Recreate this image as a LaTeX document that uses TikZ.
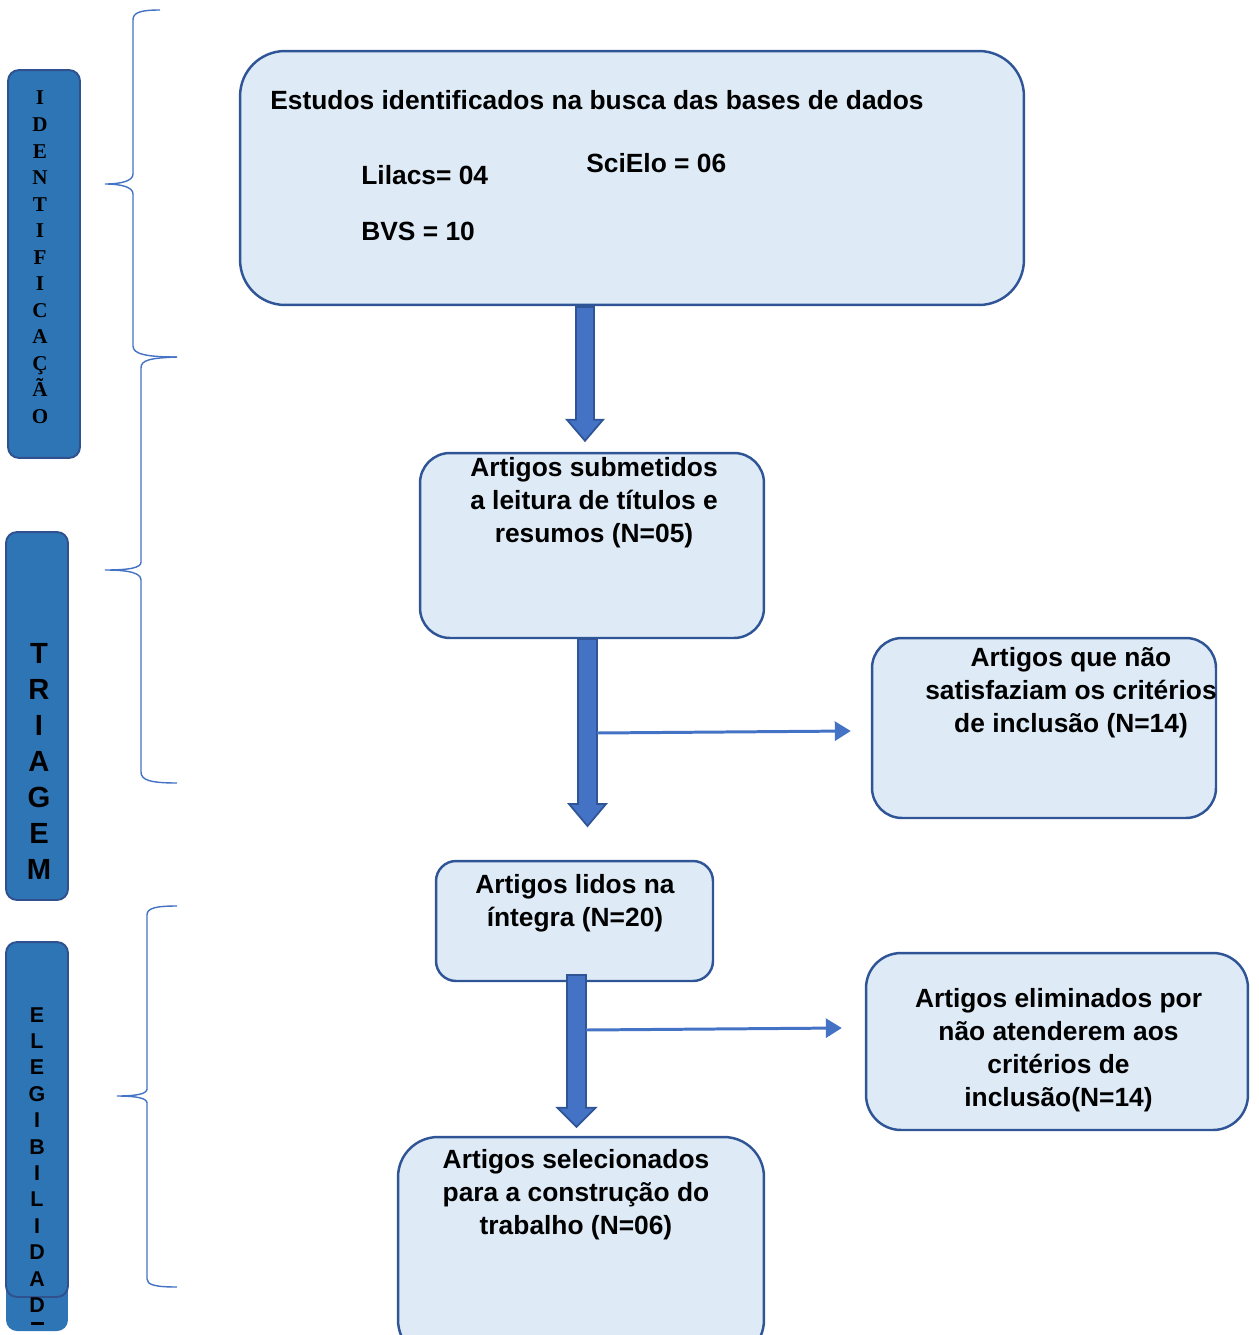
\documentclass[tikz,border=0pt]{standalone}
\usepackage{fontspec}
\setmainfont{Liberation Sans}
\newfontfamily\serifb{Liberation Serif}
\usetikzlibrary{arrows.meta,calc}
\definecolor{boxfill}{HTML}{DEEBF7}
\definecolor{boxline}{HTML}{2F5597}
\definecolor{barfill}{HTML}{2E75B6}
\definecolor{barline}{HTML}{2F528F}
\definecolor{arrfill}{HTML}{4472C4}
\definecolor{braceline}{HTML}{4472C4}
\newcommand\fatarr[5]{%
  \draw[fatarrow] ($(#1)+(-#3,0)$) -- ($(#2)+(-#3,-#5)$) -- ($(#2)+(-#4,-#5)$) -- (#2)
    -- ($(#2)+(#4,-#5)$) -- ($(#2)+(#3,-#5)$) -- ($(#1)+(#3,0)$) -- cycle;}
\begin{document}
\begin{tikzpicture}[x=0.02cm,y=-0.02cm,
  box/.style={draw=boxline,fill=boxfill,line width=1.4pt,inner sep=0pt},
  bar/.style={draw=barline,fill=barfill,line width=1.1pt,rounded corners=0.22cm,inner sep=0pt},
  txt/.style={font=\fontsize{15}{18.7}\selectfont\bfseries,inner sep=0pt,align=center,anchor=north},
  ltxt/.style={font=\fontsize{15}{18}\selectfont\bfseries,inner sep=0pt,anchor=base west},
  idletter/.style={font=\serifb\bfseries\fontsize{12}{14}\selectfont,inner sep=0pt,anchor=base},
  trletter/.style={font=\bfseries\fontsize{16.6}{20}\selectfont,inner sep=0pt,anchor=base},
  elletter/.style={font=\bfseries\fontsize{12.2}{14}\selectfont,inner sep=0pt,anchor=base},
  fatarrow/.style={fill=arrfill,draw=boxline,line width=1pt,line join=miter},
  thinarrow/.style={draw=arrfill,line width=1.7pt,-{Triangle[length=0.32cm,width=0.38cm]}},
  bracestyle/.style={draw=braceline,line width=0.8pt}]
\useasboundingbox (0,0) rectangle (1258,1335);

% left phase bars
\node[bar] (bar1) at (44,264) [minimum width=1.44cm,minimum height=7.76cm] {};
\node[bar] (bar2) at (37,716) [minimum width=1.24cm,minimum height=7.36cm] {};
\node[fill=barfill,rounded corners=0.22cm,inner sep=0pt,minimum width=1.24cm,minimum height=1.62cm] (bar3x) at (37,1290.5) {};
\node[bar] (bar3) at (37,1119.5) [minimum width=1.24cm,minimum height=7.1cm] {};
\foreach \L [count=\i from 0] in {I,D,E,N,T,I,F,I,C,A,Ç,Ã,O}
  \node[idletter] (id\i) at (40,{105+26.5*\i}) {\L};
\foreach \L [count=\i from 0] in {T,R,I,A,G,E,M}
  \node[trletter] (tr\i) at (39,{663+36*\i}) {\L};
\foreach \L [count=\i from 0] in {E,L,E,G,I,B,I,L,I,D,A,D}
  \node[elletter] (el\i) at (37,{1022+26.4*\i}) {\L};
\fill[black] (31,1322) rectangle (44,1324.5);

% braces
\draw[bracestyle] (160,10) .. controls (139,10) and (133,13) .. (133,20) -- (133,174)
  .. controls (133,181) and (121,184) .. (105,184) .. controls (121,184) and (133,187) .. (133,194)
  -- (133,346) .. controls (133,354) and (146,357) .. (177,357);
\draw[bracestyle] (177,357) .. controls (150,358) and (141,360) .. (141,368) -- (141,562)
  .. controls (141,568) and (129,570) .. (105,570) .. controls (129,570) and (141,573) .. (141,580)
  -- (141,772) .. controls (141,780) and (150,783) .. (177,783);
\draw[bracestyle] (177,906) .. controls (156,906) and (147,908) .. (147,915) -- (147,1089)
  .. controls (147,1094) and (136,1096) .. (117,1096) .. controls (136,1096) and (147,1098) .. (147,1103)
  -- (147,1279) .. controls (147,1285) and (156,1287) .. (177,1287);

% boxes
\node[box,rounded corners=0.9cm,minimum width=15.68cm,minimum height=5.08cm] (box1) at (632,178) {};
\node[box,rounded corners=0.6cm,minimum width=6.88cm,minimum height=3.7cm] (box2) at (592,545.5) {};
\node[box,rounded corners=0.6cm,minimum width=6.88cm,minimum height=3.6cm] (box3) at (1044,728) {};
\node[box,rounded corners=0.4cm,minimum width=5.54cm,minimum height=2.4cm] (box4) at (574.5,921) {};
\node[box,rounded corners=0.7cm,minimum width=7.64cm,minimum height=3.54cm] (box5) at (1057,1041.5) {};
\node[box,rounded corners=0.8cm,minimum width=7.32cm,minimum height=4.46cm] (box6) at (581,1248.5) {};

% texts
\node[ltxt] (t1a) at (270,110) {Estudos identificados na busca das bases de dados};
\node[ltxt] (t1b) at (361,184) {Lilacs= 04};
\node[ltxt] (t1c) at (586,173) {SciElo = 06};
\node[ltxt] (t1d) at (361,240) {BVS = 10};
\node[txt] (t2) at (594,457) {Artigos submetidos\\a leitura de títulos e\\resumos (N=05)};
\node[txt] (t3) at (1071,647) {Artigos que não\\satisfaziam os critérios\\de inclusão (N=14)};
\node[txt] (t4) at (575,874) {Artigos lidos na\\íntegra (N=20)};
\node[txt] (t5) at (1058.5,988) {Artigos eliminados por\\não atenderem aos\\critérios de\\inclusão(N=14)};
\node[txt] (t6) at (576,1149) {Artigos selecionados\\para a construção do\\trabalho (N=06)};

% fat arrows
\coordinate (a1s) at (585,307);
\coordinate (a1e) at ($(box2.north -| a1s)+(0,-11)$);
\fatarr{a1s}{a1e}{9}{18}{21}
\coordinate (a2s) at (587.5,639);
\coordinate (a2e) at (587.5,826);
\fatarr{a2s}{a2e}{9.5}{18.5}{22}
\coordinate (a3s) at (576.5,975);
\coordinate (a3e) at ($(box6.north -| a3s)+(0,-9)$);
\fatarr{a3s}{a3e}{9.5}{19}{19}

% thin arrows
\coordinate (t1s) at (597,733);
\coordinate (t1e) at ($(box3.west)+(-20,3)$);
\draw[thinarrow] (t1s) -- (t1e);
\coordinate (t2s) at (586,1030);
\coordinate (t2e) at ($(box5.west)+(-23,-13.5)$);
\draw[thinarrow] (t2s) -- (t2e);
\end{tikzpicture}
\end{document}
